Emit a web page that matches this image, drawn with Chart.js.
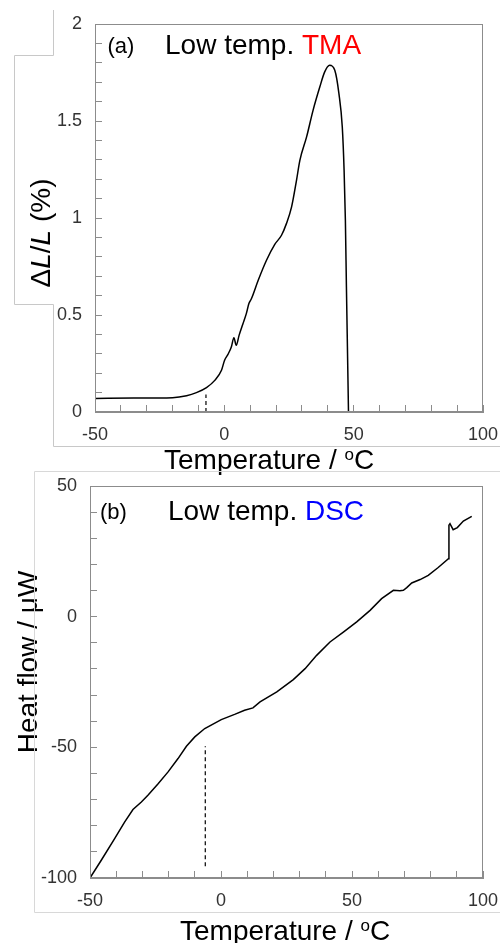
<!DOCTYPE html>
<html>
<head>
<meta charset="utf-8">
<script src="https://cdn.jsdelivr.net/npm/chart.js@4.4.1/dist/chart.umd.min.js"></script>
<style>
  body { margin: 0; background: #fff; }
  #wrap { position: relative; width: 500px; height: 943px; overflow: hidden; }
  canvas { position: absolute; left: 0; }
  #tma { top: 0; }
  #dsc { top: 466px; }
  svg { position: absolute; left: 0; top: 0; pointer-events: none; }
</style>
</head>
<body>
<div id="wrap">
  <canvas id="tma" width="500" height="480" style="width:500px;height:480px"></canvas>
  <canvas id="dsc" width="500" height="477" style="width:500px;height:477px"></canvas>
  <svg width="500" height="943">
    <polyline points="53.5,10 53.5,55.5 14.5,55.5 14.5,304.5 53.5,304.5 53.5,446.5 500,446.5" fill="none" stroke="#c8c8c8" stroke-width="1"/>
    <polyline points="500,471.5 34.5,471.5 34.5,912.5 500,912.5" fill="none" stroke="#d8d8d8" stroke-width="1"/>
  </svg>
</div>
<script>
// (a) low temperature TMA
const tmaTemp = [-50, -35, -20, -14.6, -10.8, -6.9, -3.7, -1.1, 0.1, 1.4, 2.7, 3.7, 4.6, 5.7, 7.2, 8.5, 9.5,
  10.5, 13.1, 16.3, 19.5, 22.1, 24.0, 26.0, 27.9, 29.2, 31.8, 34.3, 36.9, 38.8, 40.7, 42.7, 44.3, 45.6,
  46.3, 46.8, 47.2, 47.5, 48.0];
const tmaDL = [0.07, 0.072, 0.074, 0.084, 0.10, 0.126, 0.163, 0.215, 0.267, 0.297, 0.335, 0.383, 0.344, 0.395, 0.455, 0.507, 0.559,
  0.585, 0.679, 0.782, 0.864, 0.911, 0.971, 1.057, 1.194, 1.297, 1.418, 1.555, 1.675, 1.753, 1.787, 1.761, 1.641, 1.469,
  1.246, 0.988, 0.644, 0.405, 0];
const tmaMarkT = [-7.1, -7.1];
const tmaMarkY = [0, 0.09];
const tmaXTicks = [-50, 0, 50, 100];
const tmaYTicks = [0, 0.5, 1, 1.5, 2];

// (b) low temperature DSC
const dscTemp = [-50, -45.7, -40.6, -36.8, -33.6, -30.4, -27.9, -24.0, -20.2, -16.4, -13.2, -10.0, -6.2, 0.1,
  5.2, 9.0, 12.2, 14.9, 21.3, 27.6, 32.1, 36.5, 41.6, 46.7, 51.8, 56.9, 61.3, 65.8, 68.3, 69.6, 70.9, 72.8,
  76.0, 79.1, 82.9, 86.8, 87.0, 87.4, 88.6, 90.2, 92.5, 95.7];
const dscFlow = [-100, -93.2, -84.9, -78.6, -73.8, -70.9, -68.3, -63.9, -59.4, -54.3, -49.6, -46.0, -42.8, -39.4,
  -37.4, -35.8, -34.9, -32.6, -28.8, -24.1, -19.9, -14.8, -9.7, -5.9, -2.0, 2.4, 6.9, 10.1, 9.9, 10.1, 11.1, 12.9,
  14.2, 15.8, 18.8, 22.2, 35.0, 35.6, 33.3, 34.1, 36.6, 38.4];
const dscMarkT = [-6, -6];
const dscMarkY = [-95.5, -49.6];
const dscXTicks = [-50, 0, 50, 100];
const dscYTicks = [-100, -50, 0, 50];

const FONT = '"Liberation Sans", Arial, sans-serif';
const AXIS = '#8c8c8c';

function pts(xs, ys) {
  return xs.map((x, i) => ({ x: x, y: ys[i] }));
}

function onlyTicks(list) {
  return function (v) {
    const hit = list.find(t => Math.abs(t - v) < 1e-6);
    return hit === undefined ? '' : String(hit);
  };
}

function drawRuns(ctx, runs, x, y) {
  runs.forEach(r => {
    ctx.font = r.font;
    ctx.fillStyle = r.color || '#000';
    ctx.fillText(r.text, x, y + (r.dy || 0));
    x += ctx.measureText(r.text).width;
  });
}

function runsWidth(ctx, runs) {
  let w = 0;
  runs.forEach(r => { ctx.font = r.font; w += ctx.measureText(r.text).width; });
  return w;
}

function decor(id, texts) {
  return {
    id: id,
    afterDraw(chart) {
      const ctx = chart.ctx;
      const a = chart.chartArea;
      ctx.save();
      ctx.strokeStyle = AXIS;
      ctx.lineWidth = 1;
      ctx.strokeRect(Math.round(a.left) + 0.5, Math.round(a.top) + 0.5,
        Math.round(a.right - a.left) - 1, Math.round(a.bottom - a.top) - 1);
      ctx.textBaseline = 'alphabetic';
      ctx.textAlign = 'left';
      texts(ctx);
      ctx.restore();
    }
  };
}

function noPad(s) {
  s.paddingLeft = 0; s.paddingRight = 0; s.paddingTop = 0; s.paddingBottom = 0;
}

function scales(xmin, xmax, xstep, xticks, ymin, ymax, ystep, yticks, yWidth, xHeight) {
  const grid = { drawOnChartArea: false, tickLength: -7, color: AXIS, lineWidth: 1 };
  const tickFont = { family: FONT, size: 18 };
  return {
    x: {
      type: 'linear', min: xmin, max: xmax,
      grid: grid, border: { color: AXIS },
      ticks: { stepSize: xstep, autoSkip: false, maxRotation: 0, padding: 19, color: '#333',
        font: tickFont, callback: onlyTicks(xticks) },
      afterFit(s) { s.height = xHeight; noPad(s); }
    },
    y: {
      type: 'linear', min: ymin, max: ymax,
      grid: grid, border: { color: AXIS },
      ticks: { stepSize: ystep, autoSkip: false, maxTicksLimit: 100, padding: 20, color: '#333',
        font: tickFont, callback: onlyTicks(yticks) },
      afterFit(s) { s.width = yWidth; noPad(s); }
    }
  };
}

const common = {
  responsive: false,
  animation: false,
  plugins: { legend: { display: false }, tooltip: { enabled: false } }
};

const big = '28px ' + FONT;
const sup = '17px ' + FONT;

new Chart(document.getElementById('tma'), {
  type: 'scatter',
  data: {
    datasets: [
      { data: pts(tmaTemp, tmaDL), showLine: true, borderColor: '#000', borderWidth: 1.5,
        pointRadius: 0, cubicInterpolationMode: 'monotone' },
      { data: pts(tmaMarkT, tmaMarkY), showLine: true, borderColor: '#000', borderWidth: 1.2,
        borderDash: [4, 3], pointRadius: 0 }
    ]
  },
  options: Object.assign({}, common, {
    layout: { padding: { top: 24, right: 17, left: 0, bottom: 0 } },
    scales: scales(-50, 100, 10, tmaXTicks, 0, 2, 0.1, tmaYTicks, 95, 68)
  }),
  plugins: [decor('tmaDecor', ctx => {
    drawRuns(ctx, [{ text: '(a)', font: '22px ' + FONT }], 107.5, 53);
    drawRuns(ctx, [{ text: 'Low temp. ', font: big }, { text: 'TMA', font: big, color: '#ff0000' }], 165, 54);
    drawRuns(ctx, [{ text: 'Temperature / ', font: big }, { text: 'o', font: sup, dy: -9 }, { text: 'C', font: big }], 164, 469);
    const yr = [
      { text: '\u0394', font: big }, { text: 'L', font: 'italic ' + big }, { text: '/', font: big },
      { text: 'L', font: 'italic ' + big }, { text: ' (%)', font: big }
    ];
    ctx.save();
    ctx.translate(50, 233);
    ctx.rotate(-Math.PI / 2);
    drawRuns(ctx, yr, -runsWidth(ctx, yr) / 2, 0);
    ctx.restore();
  })]
});

new Chart(document.getElementById('dsc'), {
  type: 'scatter',
  data: {
    datasets: [
      { data: pts(dscTemp, dscFlow), showLine: true, borderColor: '#000', borderWidth: 1.5,
        pointRadius: 0, tension: 0 },
      { data: pts(dscMarkT, dscMarkY), showLine: true, borderColor: '#000', borderWidth: 1.2,
        borderDash: [4, 3], pointRadius: 0 }
    ]
  },
  options: Object.assign({}, common, {
    layout: { padding: { top: 20, right: 17, left: 0, bottom: 0 } },
    scales: scales(-50, 100, 10, dscXTicks, -100, 50, 10, dscYTicks, 90, 65)
  }),
  plugins: [decor('dscDecor', ctx => {
    drawRuns(ctx, [{ text: '(b)', font: '22px ' + FONT }], 100, 53);
    drawRuns(ctx, [{ text: 'Low temp. ', font: big }, { text: 'DSC', font: big, color: '#0000ff' }], 168, 54);
    drawRuns(ctx, [{ text: 'Temperature / ', font: big }, { text: 'o', font: sup, dy: -9 }, { text: 'C', font: big }], 180, 474);
    const yr = [{ text: 'Heat flow / \u03bcW', font: big }];
    ctx.save();
    ctx.translate(37, 196);
    ctx.rotate(-Math.PI / 2);
    drawRuns(ctx, yr, -runsWidth(ctx, yr) / 2, 0);
    ctx.restore();
  })]
});
</script>
</body>
</html>
